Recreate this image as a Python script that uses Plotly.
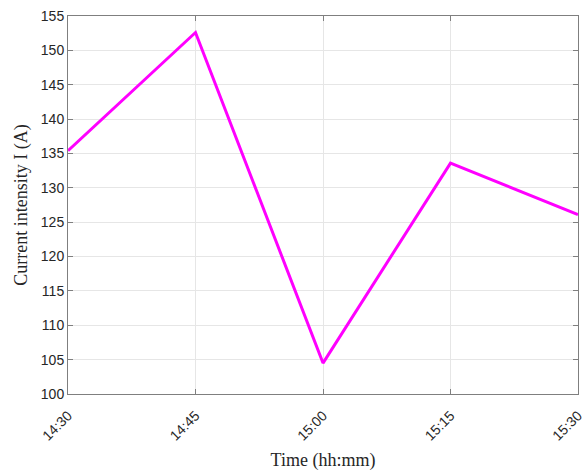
import plotly.graph_objects as go

# Measured current over the afternoon interval
times = ["2024-01-01 14:30", "2024-01-01 14:45", "2024-01-01 15:00",
         "2024-01-01 15:15", "2024-01-01 15:30"]
current = [135.4, 152.6, 104.5, 133.6, 126.1]

tick_vals = times
tick_text = ["14:30", "14:45", "15:00", "15:15", "15:30"]
y_ticks = list(range(100, 156, 5))

axis_color = "#7f7f7f"
grid_color = "#e6e6e6"
tick_font = dict(family="Arial, Liberation Sans, sans-serif", size=14, color="#262626")
title_font = dict(family="Times New Roman, Liberation Serif, serif", size=18, color="#262626")

fig = go.Figure(
    go.Scatter(
        x=times,
        y=current,
        mode="lines",
        line=dict(color="#ff00ff", width=3),
        showlegend=False,
    )
)

fig.update_layout(
    width=588,
    height=472,
    margin=dict(l=68, r=10, t=16, b=78),
    paper_bgcolor="white",
    plot_bgcolor="white",
)

fig.update_xaxes(
    type="date",
    automargin=False,
    range=[times[0], times[-1]],
    tickvals=tick_vals,
    ticktext=tick_text,
    tickangle=-45,
    tickfont=tick_font,
    ticklabelstandoff=7,
    showline=True,
    linecolor=axis_color,
    linewidth=1,
    mirror="ticks",
    ticks="inside",
    ticklen=5,
    tickcolor=axis_color,
    showgrid=True,
    gridcolor=grid_color,
    zeroline=False,
    title=dict(text="Time (hh:mm)", font=title_font, standoff=10),
)

fig.update_yaxes(
    automargin=False,
    range=[100, 155],
    tickvals=y_ticks,
    tickfont=tick_font,
    showline=True,
    linecolor=axis_color,
    linewidth=1,
    mirror="ticks",
    ticks="inside",
    ticklen=5,
    tickcolor=axis_color,
    showgrid=True,
    gridcolor=grid_color,
    zeroline=False,
    title=dict(text="Current intensity I (A)", font=title_font, standoff=8),
)

fig.write_html("out.html")
